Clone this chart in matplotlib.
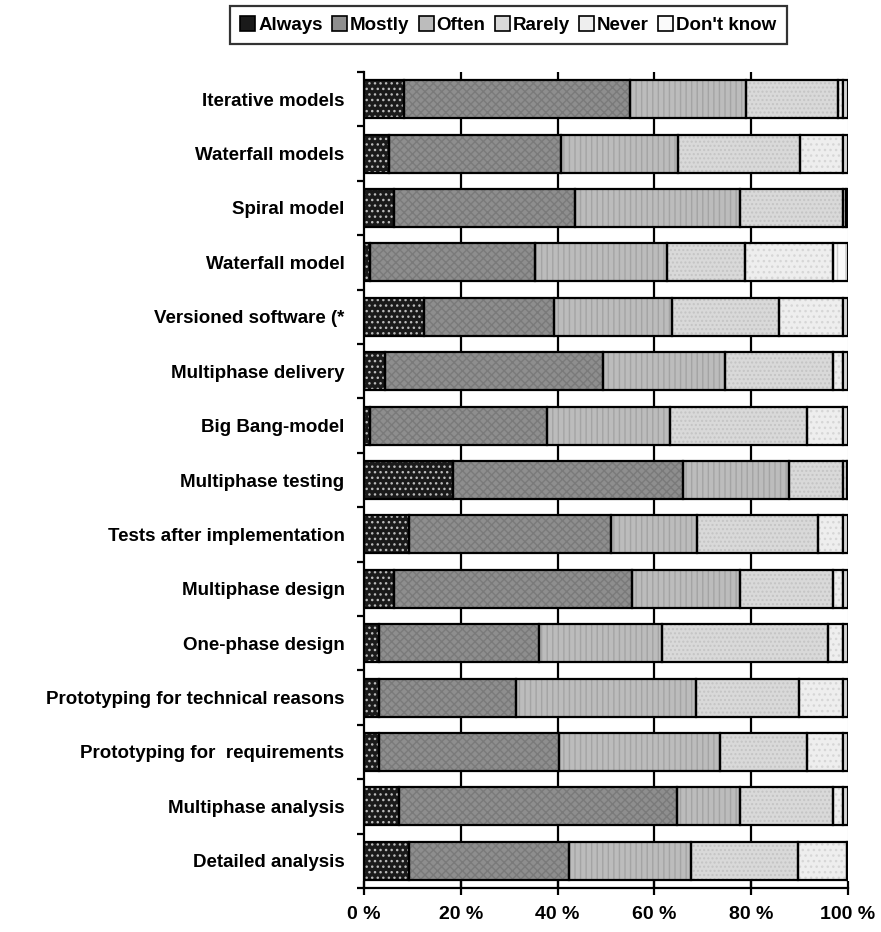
import matplotlib
matplotlib.use("Agg")
import matplotlib.pyplot as plt
from matplotlib.patches import Patch
import numpy as np

plt.rcParams['font.family'] = ['Liberation Sans', 'DejaVu Sans']
plt.rcParams['font.weight'] = 'bold'
plt.rcParams['hatch.linewidth'] = 1.0

categories = ["Iterative models", "Waterfall models", "Spiral model", "Waterfall model",
              "Versioned software (*", "Multiphase delivery", "Big Bang-model",
              "Multiphase testing", "Tests after implementation", "Multiphase design",
              "One-phase design", "Prototyping for technical reasons",
              "Prototyping for  requirements", "Multiphase analysis", "Detailed analysis"]

series_names = ["Always", "Mostly", "Often", "Rarely", "Never", "Don't know"]

always = [8.3, 5.2, 6.3, 1.2, 12.4, 4.3, 1.2, 18.3, 9.4, 6.3, 3.1, 3.1, 3.1, 7.3, 9.4]
mostly = [46.7, 35.6, 37.2, 34.1, 26.9, 45.1, 36.6, 47.7, 41.6, 49.0, 33.1, 28.3, 37.1, 57.3, 33.0]
often = [23.9, 24.0, 34.2, 27.4, 24.3, 25.2, 25.4, 21.9, 17.7, 22.4, 25.3, 37.1, 33.4, 13.1, 25.2]
rarely = [19.0, 25.2, 21.3, 16.0, 22.1, 22.4, 28.3, 11.1, 25.2, 19.1, 34.3, 21.3, 18.0, 19.3, 22.1]
never = [1.1, 8.9, 0.5, 18.3, 13.3, 2.0, 7.5, 0.7, 5.1, 2.2, 3.2, 9.2, 7.4, 2.0, 10.0]
dont_know = [1.0, 1.1, 0.5, 3.0, 1.0, 1.0, 1.0, 0.3, 1.0, 1.0, 1.0, 1.0, 1.0, 1.0, 0.3]

x_ticks = [0, 20, 40, 60, 80, 100]
x_tick_labels = ["0 %", "20 %", "40 %", "60 %", "80 %", "100 %"]

faces = ['#1a1a1a', '#8e8e8e', '#bcbcbc', '#d9d9d9', '#eeeeee', '#fafafa']
hatch_specs = [('...', '#bbbbbb'), ('xxxx', '#7a7a7a'), ('|||', '#a4a4a4'),
               ('....', '#c4c4c4'), ('...', '#d6d6d6'), ('||', '#d0d0d0')]

fig = plt.figure(figsize=(8.81, 9.32), dpi=100)
ax = fig.add_axes([364 / 881, 1 - 888 / 932, (848 - 364) / 881, (888 - 72) / 932])

data = [always, mostly, often, rarely, never, dont_know]
y = np.arange(len(categories))
left = np.zeros(len(categories))
handles = []
for vals, face, (hatch, hcol), name in zip(data, faces, hatch_specs, series_names):
    vals = np.array(vals)
    ax.barh(y, vals, left=left, height=0.7, color=face, edgecolor=hcol,
            hatch=hatch, linewidth=0, zorder=3)
    ax.barh(y, vals, left=left, height=0.7, facecolor='none',
            edgecolor='black', linewidth=1.6, zorder=4)
    left += vals
    handles.append(Patch(facecolor=face, edgecolor='black', linewidth=1.2,
                         label=name))

ax.set_xlim(0, 100)
ax.set_ylim(len(categories) - 0.5, -0.5)

for gx in [20, 40, 60, 80]:
    ax.axvline(gx, color='black', linewidth=1.6, zorder=1)
ax.axvline(100, color='#c8c8c8', linewidth=0.8, zorder=1)

ax.spines['top'].set_visible(False)
ax.spines['right'].set_visible(False)
ax.spines['left'].set_linewidth(1.6)
ax.spines['bottom'].set_linewidth(1.6)

ax.set_yticks(np.arange(len(categories) + 1) - 0.5)
ax.set_yticklabels([])
ax.set_yticks(y, minor=True)
ax.set_yticklabels(categories, minor=True, fontsize=13.5, fontweight='bold')
ax.tick_params(axis='y', which='major', direction='out', length=5, width=1.6)
ax.tick_params(axis='y', which='minor', length=0, pad=14)

ax.set_xticks(x_ticks)
ax.set_xticklabels(x_tick_labels, fontsize=14, fontweight='bold')
ax.tick_params(axis='x', which='major', direction='inout', length=10, width=1.6, pad=8)

leg = fig.legend(handles=handles, loc='center', bbox_to_anchor=(0.577, 0.973),
                 ncol=6, frameon=True, fancybox=False, edgecolor='black',
                 prop={'weight': 'bold', 'size': 13.5}, handlelength=0.8,
                 handleheight=0.8, handletextpad=0.15, columnspacing=0.5,
                 borderpad=0.55)
leg.get_frame().set_linewidth(1.6)

fig.savefig("out.png", dpi=100)
